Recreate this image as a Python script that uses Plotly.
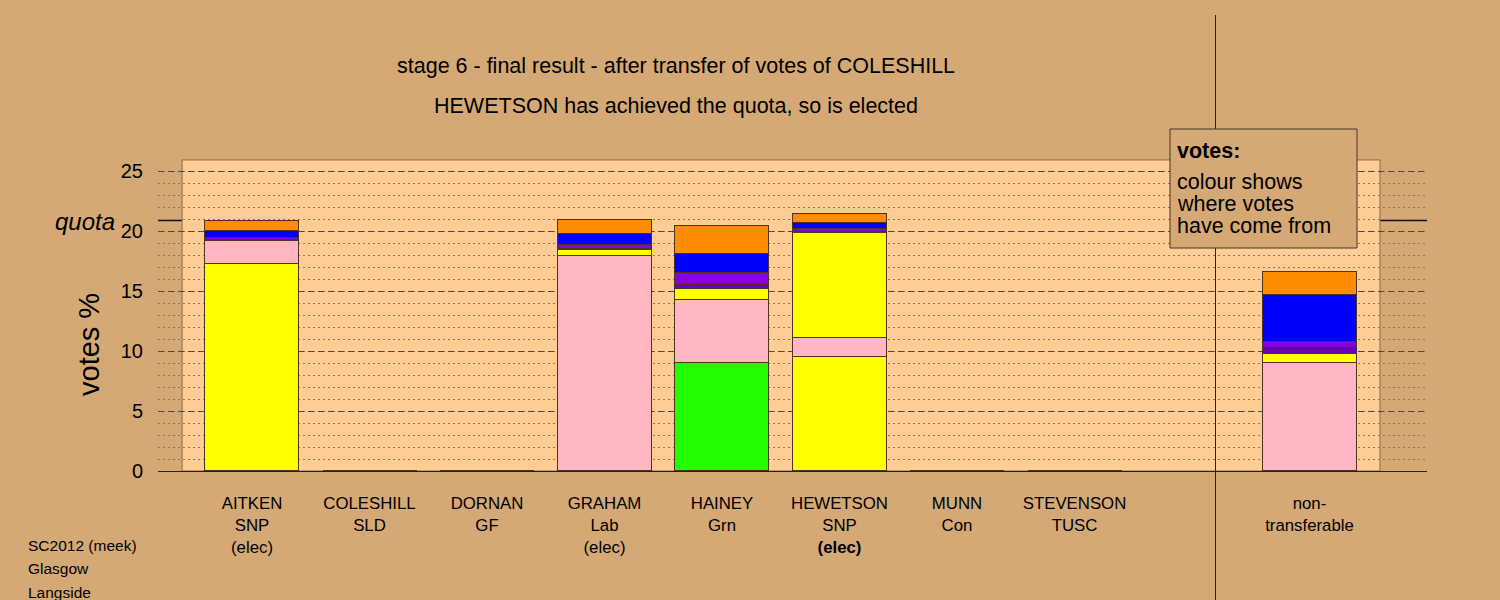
import plotly.graph_objects as go

# ---------------- data ----------------
candidates = ["AITKEN", "COLESHILL", "DORNAN", "GRAHAM", "HAINEY", "HEWETSON", "MUNN", "STEVENSON", "non-transferable"]
tick_labels = ["AITKEN<br>SNP<br>(elec)", "COLESHILL<br>SLD", "DORNAN<br>GF", "GRAHAM<br>Lab<br>(elec)",
               "HAINEY<br>Grn", "HEWETSON<br>SNP<br><b>(elec)</b>", "MUNN<br>Con", "STEVENSON<br>TUSC",
               "non-<br>transferable"]
positions = [1, 2, 3, 4, 5, 6, 7, 8, 10]

own_colours = ["#FFFF00", "#FF8C00", "#8800E0", "#FFB6C1", "#22FF00", "#FFFF00", "#0000FF", "#7000B8", "#FFFFFF"]
first_prefs = [17.25, 0, 0, 17.92, 9.03, 9.52, 0, 0, 0]
from_graham = [1.94, 0, 0, 0, 5.22, 1.53, 0, 0, 9.00]
from_aitken = [0, 0, 0, 0.50, 0.89, 8.77, 0, 0, 0.72]
from_stevenson = [0.10, 0, 0, 0.10, 0.36, 0.10, 0, 0, 0.50]
from_dornan = [0.15, 0, 0, 0.33, 0.97, 0.22, 0, 0, 0.50]
from_munn = [0.58, 0, 0, 0.88, 1.58, 0.50, 0, 0, 3.92]
from_coleshill = [0.83, 0, 0, 1.17, 2.36, 0.78, 0, 0, 1.92]

quota = 20.87
stage_title = "stage 6 - final result - after transfer of votes of COLESHILL"
stage_sub = "HEWETSON has achieved the quota, so is elected"
footer = ["SC2012 (meek)", "Glasgow", "Langside"]

# ---------------- styling ----------------
BG = "#D4A976"
PANEL = "#FFCC94"
EDGE = "#4A3520"
FONT = "Liberation Sans, Arial, sans-serif"

# plot area in pixels
L, R, T, B = 158, 1427, 159, 471
XR = [0.2, 11.0]
YR = [0, 26]


def px_x(p):
    return (p - L) / (R - L)


def px_y(p):
    return (B - p) / (B - T)


def data_to_paper_x(v):
    return (v - XR[0]) / (XR[1] - XR[0])


fig = go.Figure()

layers = [
    (first_prefs, own_colours),
    (from_graham, "#FFB6C1"),
    (from_aitken, "#FFFF00"),
    (from_stevenson, "#7000B8"),
    (from_dornan, "#8800E0"),
    (from_munn, "#0000FF"),
    (from_coleshill, "#FF8C00"),
]
for vals, col in layers:
    fig.add_trace(go.Bar(
        x=positions, y=vals, width=0.8,
        marker=dict(color=col, line=dict(color=EDGE, width=1)),
        showlegend=False, hoverinfo="skip"))

shapes = []
# light panel
shapes.append(dict(type="rect", xref="x", yref="y", x0=0.405, x1=10.6, y0=0, y1=25.92,
                   fillcolor=PANEL, line=dict(color="#8A6A4A", width=1), layer="below"))
# quota line
shapes.append(dict(type="line", xref="paper", yref="y", x0=0, x1=1, y0=quota, y1=quota,
                   line=dict(color="#111111", width=1.5), layer="between"))
# vertical separator
vx = data_to_paper_x(9.2)
shapes.append(dict(type="line", xref="paper", yref="paper", x0=vx, x1=vx, y0=px_y(600), y1=px_y(15),
                   line=dict(color="#222222", width=1), layer="above"))
# legend box
shapes.append(dict(type="rect", xref="paper", yref="paper", x0=px_x(1170), x1=px_x(1357),
                   y0=px_y(248), y1=px_y(129), fillcolor=BG, line=dict(color="#4A3520", width=1),
                   layer="above"))

ann = []
ann.append(dict(text=stage_title, xref="paper", yref="paper", x=px_x(676), y=px_y(66),
                showarrow=False, font=dict(size=21.5, color="black"), xanchor="center", yanchor="middle"))
ann.append(dict(text=stage_sub, xref="paper", yref="paper", x=px_x(676), y=px_y(106),
                showarrow=False, font=dict(size=21.5, color="black"), xanchor="center", yanchor="middle"))
ann.append(dict(text="<i>quota</i>", xref="paper", yref="y", x=px_x(117), y=quota, yshift=-1,
                showarrow=False, font=dict(size=24, color="black"), xanchor="right", yanchor="middle"))
ann.append(dict(text="votes %", xref="paper", yref="paper", x=px_x(89), y=px_y(345), textangle=-90,
                showarrow=False, font=dict(size=29, color="black"), xanchor="center", yanchor="middle"))
ann.append(dict(text="<b>votes:</b>", xref="paper", yref="paper", x=px_x(1175), y=px_y(151),
                showarrow=False, font=dict(size=21.5, color="black"), xanchor="left", yanchor="middle"))
for i, line in enumerate(["colour shows", "where votes", "have come from"]):
    ann.append(dict(text=line, xref="paper", yref="paper", x=px_x(1175), y=px_y(182 + 22 * i),
                    showarrow=False, font=dict(size=21.5, color="black"), xanchor="left", yanchor="middle"))
for i, line in enumerate(footer):
    ann.append(dict(text=line, xref="paper", yref="paper", x=px_x(26), y=px_y(545 + 23.5 * i),
                    showarrow=False, font=dict(size=15.5, color="black"), xanchor="left", yanchor="middle"))

fig.update_layout(
    width=1500, height=600,
    margin=dict(l=L, r=1500 - R, t=T, b=600 - B, pad=0),
    paper_bgcolor=BG, plot_bgcolor=BG,
    barmode="stack", bargap=0,
    font=dict(family=FONT, color="black"),
    shapes=shapes, annotations=ann,
    xaxis=dict(range=XR, tickvals=positions, ticktext=tick_labels, showgrid=False, zeroline=False,
               showline=True, linecolor="#222222", linewidth=1, ticks="outside", ticklen=17,
               tickcolor="rgba(0,0,0,0)", tickfont=dict(size=16.8, color="black")),
    yaxis=dict(range=YR, tickvals=[0, 5, 10, 15, 20, 25], showgrid=True, gridcolor="#5A4632",
               griddash="6px,4px", gridwidth=1, zeroline=False, showline=False,
               ticks="outside", ticklen=10, tickcolor="rgba(0,0,0,0)",
               tickfont=dict(size=20, color="black"),
               minor=dict(dtick=1, showgrid=True, gridcolor="#8A765E", griddash="2px,3px", gridwidth=1)),
)

fig.write_html("out.html", config={"displayModeBar": False},
               post_script="document.body.style.margin='0';document.body.style.overflow='hidden';")
